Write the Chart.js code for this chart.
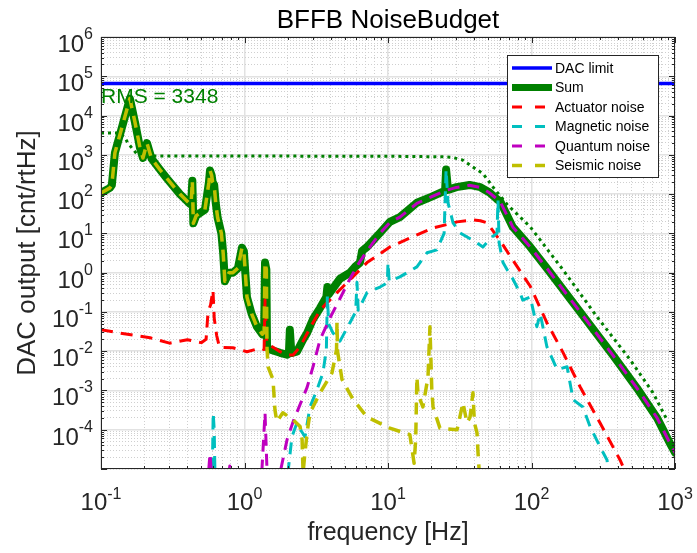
<!DOCTYPE html>
<html><head><meta charset="utf-8">
<script src="https://cdn.jsdelivr.net/npm/chart.js@4"></script>
<style>html,body{margin:0;padding:0;background:#fff}#wrap{width:697px;height:553px}</style>
</head><body><div id="wrap"><canvas id="c" width="697" height="553"></canvas></div>
<script>
// ---------- text ----------
const titleText = 'BFFB NoiseBudget';
const xTitle = 'frequency [Hz]';
const yTitle = 'DAC output [cnt/rtHz]';
const rmsLabel = 'RMS = 3348';
const rmsAnchor = [0.1, 2.1e4];
const legendNames = ['DAC limit','Sum','Actuator noise','Magnetic noise','Quantum noise','Seismic noise'];
// ---------- axes ----------
const xRange = [0.1, 1000];
const yRange = [1e-5, 1e6];
const xTickExp = ['-1','0','1','2','3'];
const yTickExp = ['-4','-3','-2','-1','0','1','2','3','4','5','6'];
// ---------- series ----------
const dacF = [0.1, 1000];
const dacV = [65536, 65536];

const sumF = [0.1,0.1155,0.119,0.125,0.159,0.173,0.187,0.196,0.209,0.225,0.26,0.288,0.355,0.417,0.425,0.433,0.44,0.46,0.49,0.53,0.565,0.575,0.59,0.6,0.615,0.63,0.65,0.69,0.71,0.73,0.78,0.83,0.9,0.96,0.99,1.04,1.12,1.22,1.33,1.37,1.39,1.42,1.435,1.5,1.77,1.98,2.04,2.07,2.12,2.32,2.56,2.73,3.0,3.36,3.72,3.78,3.86,4.63,5.43,5.89,6.38,6.6,7.14,8.8,10.3,12.1,15.9,20,25.0,25.4,26.2,30,37,44,51,58.4,60.3,74,98,130,218,370,543,750,923,1000];
const sumV = [107,144,170,1120,27000,6400,1500,830,2000,800,400,250,100,56,60,220,18,28,33,40,200,400,300,200,170,60,25,10,3.2,0.6,1.0,1.0,1.3,4.3,3.5,0.24,0.09,0.042,0.027,0.03,1.8,1.2,0.013,0.011,0.0091,0.0081,0.009,0.035,0.009,0.0097,0.0195,0.029,0.065,0.125,0.24,0.43,0.28,0.7,1.0,1.4,1.8,3.6,4.5,10.3,19.6,26,60,85,122,420,128,150,171,150,110,71,68,14.6,4.5,1.2,0.1,0.0078,1.15e-3,2e-4,4.5e-5,2.6e-5];

const actF = [0.1,0.135,0.22,0.3,0.4,0.5,0.54,0.557,0.58,0.603,0.615,0.64,0.67,0.83,1.04,1.29,1.37,1.39,1.43,1.77,1.98,2.18,2.44,3.0,3.36,3.76,4.41,5.43,7.14,10.3,14.2,20.6,30.3,39,44,49,60,74,98,128,166,218,300,414,480];
const actV = [0.035,0.029,0.022,0.016,0.0195,0.0165,0.02,0.1,0.15,0.36,0.07,0.025,0.0125,0.0122,0.0097,0.012,0.011,0.2,0.016,0.0097,0.008,0.008,0.013,0.053,0.11,0.17,0.31,0.66,1.8,4.5,7.6,13.7,19.6,22,21,18.5,6.8,2.1,0.45,0.053,0.0092,1.24e-3,1.5e-4,1.7e-5,5e-6];

const magF = [0.58,0.6,0.605,0.615,0.625,1.95,2.14,2.32,2.5,2.64,2.86,3.2,3.52,3.72,3.78,3.86,4.14,4.63,5.43,5.95,6.08,6.2,7.14,8.8,9.9,10.0,10.2,12.1,13.6,15.9,18.7,21.9,24.6,25.4,26.2,28.4,31.8,35.6,41.7,45.9,53,57.5,58.4,59.5,63.3,67.5,74,83,87,98,109,115,128,151,177,195,228,256,300,336,352];
const magV = [3e-6,3e-5,2.7e-4,1e-4,3e-6,3e-6,6.6e-5,1.5e-4,9e-5,6.6e-5,3.8e-4,1.04e-3,2.8e-3,0.011,0.25,0.05,0.029,0.018,0.053,0.1,0.57,0.11,0.31,0.43,0.55,1.8,0.6,0.78,1.0,1.4,3.2,3.8,10,420,60,18.5,10.3,8.1,5.7,4.5,8.1,10,70,5.7,1.8,1.2,0.7,0.31,0.2,0.24,0.042,0.09,0.013,3.4e-3,4e-3,5.8e-4,3.8e-4,1.2e-4,3.7e-5,1.7e-5,3e-6];

const quantF = [0.55,0.575,0.6,0.75,0.79,0.83,1.3,1.39,1.45,1.77,1.98,2.18,2.73,3.0,3.36,3.94,4.63,5.43,6.18,7.14,8.8,10.3,12.1,15.9,20,25,30,37,44,51,58.4,60.3,74,98,130,218,370,543,750,923,1000];
const quantV = [3e-6,2.5e-5,3e-6,3e-6,1.2e-5,3e-6,3e-6,2.7e-4,3e-6,8e-6,5.6e-5,1.6e-4,1.2e-3,4e-3,0.0195,0.07,0.22,0.7,1.6,3.6,10,19,26,58,85,122,148,168,148,108,71,66,14.6,4.5,1.2,0.1,0.0078,1.15e-3,2e-4,4.5e-5,2.6e-5];

const seisF = [0.1,0.1155,0.119,0.125,0.159,0.173,0.187,0.196,0.209,0.225,0.26,0.288,0.355,0.417,0.425,0.433,0.44,0.46,0.49,0.53,0.565,0.575,0.59,0.6,0.615,0.63,0.65,0.69,0.71,0.73,0.78,0.83,0.9,0.96,0.99,1.04,1.12,1.22,1.33,1.37,1.39,1.42,1.435,1.46,1.58,1.63,1.68,1.85,2.18,2.44,2.52,2.56,2.62,2.73,2.86,3.36,4.07,4.38,4.41,4.45,4.78,5.7,7.14,10.3,14.2,15.2,15.6,15.9,16.2,17.5,19.0,19.6,20.2,20.6,23,30.3,33.3,35.5,37.3,39.1,40,41.7,42.4,44];
const seisV = [107,144,170,1120,27000,6400,1500,830,2000,800,400,250,100,56,60,220,18,28,33,40,200,400,300,200,170,60,25,10,3.2,0.6,1.0,1.0,1.3,4.3,3.5,0.24,0.09,0.042,0.027,0.03,1.8,1.2,0.012,0.004,1.9e-3,3.2e-4,1.6e-4,2.7e-4,1.8e-4,1.2e-4,5.6e-5,8e-6,2e-5,8.4e-5,2.7e-4,8.7e-4,2.8e-3,0.011,0.055,0.01,1.9e-3,6e-4,2.1e-4,1.1e-4,7.5e-5,1.4e-5,5.6e-5,2.2e-3,8e-4,3.8e-4,2.2e-3,0.042,1e-3,3.8e-4,1.1e-4,1e-4,4.9e-4,1.5e-4,2.1e-4,8.7e-4,1.5e-4,8.4e-5,2.6e-5,3e-6];

const rmsF = [0.1,0.135,0.147,0.154,0.164,0.178,0.187,1,10,24.2,28,33,39,46,54,67.5,98,166,286,486,703,893];
const rmsV = [3600,3600,2700,2000,1500,1050,940,930,920,890,860,740,490,330,150,55,14.6,1.17,0.075,6.1e-3,8.7e-4,1.6e-4];

// ---------- rendering ----------
const FONT = '"Liberation Sans", Arial, Helvetica, sans-serif';
const INK = '#262626';
function pts(f, v) { return f.map((x, i) => ({x: x, y: v[i]})); }
function logTicks(lo, hi, onlyMajor) {
  const out = [];
  for (let e = lo; e < hi; e++) for (let m = 1; m < 10; m++) {
    if (onlyMajor && m > 1) continue;
    out.push({value: m * Math.pow(10, e), major: m === 1});
  }
  out.push({value: Math.pow(10, hi), major: true});
  return out;
}
const xLo = Math.round(Math.log10(xRange[0])), xHi = Math.round(Math.log10(xRange[1]));
const yLo = Math.round(Math.log10(yRange[0])), yHi = Math.round(Math.log10(yRange[1]));

const lineBase = {showLine: true, pointRadius: 0, pointHoverRadius: 0, fill: false, tension: 0,
  borderJoinStyle: 'round', clip: 0};
const dash = [12, 8];
const datasets = [
  Object.assign({label: 'DAC limit', data: pts(dacF, dacV), borderColor: '#0000ff', borderWidth: 3.5, order: 7}, lineBase),
  Object.assign({label: 'Sum', data: pts(sumF, sumV), borderColor: '#008000', borderWidth: 8, order: 6, borderCapStyle: 'round'}, lineBase),
  Object.assign({label: 'Actuator noise', data: pts(actF, actV), borderColor: '#ff0000', borderWidth: 3, borderDash: dash, order: 4}, lineBase),
  Object.assign({label: 'Magnetic noise', data: pts(magF, magV), borderColor: '#00bfbf', borderWidth: 3, borderDash: dash, order: 3}, lineBase),
  Object.assign({label: 'Quantum noise', data: pts(quantF, quantV), borderColor: '#bf00bf', borderWidth: 3, borderDash: dash, order: 2}, lineBase),
  Object.assign({label: 'Seismic noise', data: pts(seisF, seisV), borderColor: '#bfbf00', borderWidth: 3.5, borderDash: dash, order: 1}, lineBase),
  Object.assign({label: 'RMS', data: pts(rmsF, rmsV), borderColor: '#008000', borderWidth: 3, borderDash: [3, 4], order: 5}, lineBase)
];

function hiddenLog(min, max, position, ticksFn, grid, dashPat) {
  return {
    type: 'logarithmic', min: min, max: max, position: position, display: true,
    afterBuildTicks: s => { s.ticks = ticksFn(); },
    ticks: {display: false},
    grid: Object.assign({drawTicks: false, drawOnChartArea: true, borderDash: dashPat}, grid),
    border: {display: false, dash: dashPat}
  };
}

const decor = {
  id: 'decor',
  afterDatasetsDraw(chart) {
    const ctx = chart.ctx, a = chart.chartArea, xs = chart.scales.x, ys = chart.scales.y;
    ctx.save();
    ctx.strokeStyle = INK; ctx.lineWidth = 1;
    logTicks(xLo, xHi, false).forEach(t => {
      const p = Math.round(xs.getPixelForValue(t.value)) + 0.5, L = t.major ? 6 : 3;
      ctx.beginPath(); ctx.moveTo(p, a.bottom); ctx.lineTo(p, a.bottom - L);
      ctx.moveTo(p, a.top); ctx.lineTo(p, a.top + L); ctx.stroke();
    });
    logTicks(yLo, yHi, false).forEach(t => {
      const p = Math.round(ys.getPixelForValue(t.value)) + 0.5, L = t.major ? 6 : 3;
      ctx.beginPath(); ctx.moveTo(a.left, p); ctx.lineTo(a.left + L, p);
      ctx.moveTo(a.right, p); ctx.lineTo(a.right - L, p); ctx.stroke();
    });
    ctx.strokeRect(a.left + 0.5, a.top + 0.5, a.right - a.left - 1, a.bottom - a.top - 1);
    ctx.restore();
  },
  afterDraw(chart) {
    const ctx = chart.ctx, a = chart.chartArea, xs = chart.scales.x, ys = chart.scales.y;
    ctx.save();
    ctx.fillStyle = INK; ctx.textBaseline = 'alphabetic'; ctx.textAlign = 'left';
    xTickExp.forEach(e => {
      const p = xs.getPixelForValue(Math.pow(10, +e));
      ctx.font = '24px ' + FONT; const wb = ctx.measureText('10').width;
      ctx.font = '16px ' + FONT; const we = ctx.measureText(e).width;
      const s = p - (wb + we) / 2;
      ctx.font = '24px ' + FONT; ctx.fillText('10', s, a.bottom + 41);
      ctx.font = '16px ' + FONT; ctx.fillText(e, s + wb, a.bottom + 30);
    });
    yTickExp.forEach(e => {
      const p = ys.getPixelForValue(Math.pow(10, +e));
      ctx.font = '16px ' + FONT; const we = ctx.measureText(e).width;
      const r = a.left - 8;
      ctx.fillText(e, r - we, p + 2);
      ctx.font = '24px ' + FONT; const wb = ctx.measureText('10').width;
      ctx.fillText('10', r - we - wb, p + 15);
    });
    ctx.textAlign = 'center';
    ctx.fillStyle = '#000'; ctx.font = '26px ' + FONT;
    ctx.fillText(titleText, (a.left + a.right) / 2, 28);
    ctx.fillStyle = INK; ctx.font = '25px ' + FONT;
    ctx.fillText(xTitle, (a.left + a.right) / 2, 540);
    ctx.save(); ctx.translate(35, (a.top + a.bottom) / 2); ctx.rotate(-Math.PI / 2);
    ctx.font = '26px ' + FONT; ctx.fillText(yTitle, 0, 0); ctx.restore();
    ctx.textAlign = 'left'; ctx.fillStyle = '#008000'; ctx.font = '21px ' + FONT;
    ctx.fillText(rmsLabel, xs.getPixelForValue(rmsAnchor[0]), ys.getPixelForValue(rmsAnchor[1]));
    const bw = 151, bh = 122, bx = a.right - 168, by = a.top + 18;
    ctx.fillStyle = '#fff'; ctx.fillRect(bx, by, bw, bh);
    ctx.strokeStyle = INK; ctx.lineWidth = 1; ctx.strokeRect(bx + 0.5, by + 0.5, bw, bh);
    ctx.font = '14px ' + FONT; ctx.textBaseline = 'middle';
    legendNames.forEach((name, i) => {
      const ds = chart.data.datasets.find(d => d.label === name);
      const cy = by + 13 + i * 19.5;
      ctx.save();
      ctx.strokeStyle = ds.borderColor; ctx.lineWidth = Math.min(ds.borderWidth, 7);
      ctx.setLineDash(ds.borderDash ? [10, 13] : []);
      ctx.beginPath(); ctx.moveTo(bx + 5, cy); ctx.lineTo(bx + 45, cy); ctx.stroke();
      ctx.restore();
      ctx.fillStyle = '#000'; ctx.fillText(name, bx + 48, cy + 1);
    });
    ctx.restore();
  }
};

new Chart(document.getElementById('c'), {
  type: 'scatter',
  data: {datasets: datasets},
  options: {
    responsive: false, animation: false, devicePixelRatio: 1,
    layout: {padding: {left: 101, top: 37, right: 22, bottom: 84}},
    plugins: {legend: {display: false}, title: {display: false}, tooltip: {enabled: false}},
    scales: {
      x: hiddenLog(xRange[0], xRange[1], 'bottom', () => logTicks(xLo, xHi, false), {color: '#cfcfcf', lineWidth: 1}, [1, 2]),
      xMajor: hiddenLog(xRange[0], xRange[1], 'bottom', () => logTicks(xLo, xHi, true), {color: '#e2e2e2', lineWidth: 1.5}, []),
      y: hiddenLog(yRange[0], yRange[1], 'left', () => logTicks(yLo, yHi, false), {color: '#cfcfcf', lineWidth: 1}, [1, 2]),
      yMajor: hiddenLog(yRange[0], yRange[1], 'left', () => logTicks(yLo, yHi, true), {color: '#e2e2e2', lineWidth: 1.5}, [])
    }
  },
  plugins: [decor]
});
</script>
</body></html>
